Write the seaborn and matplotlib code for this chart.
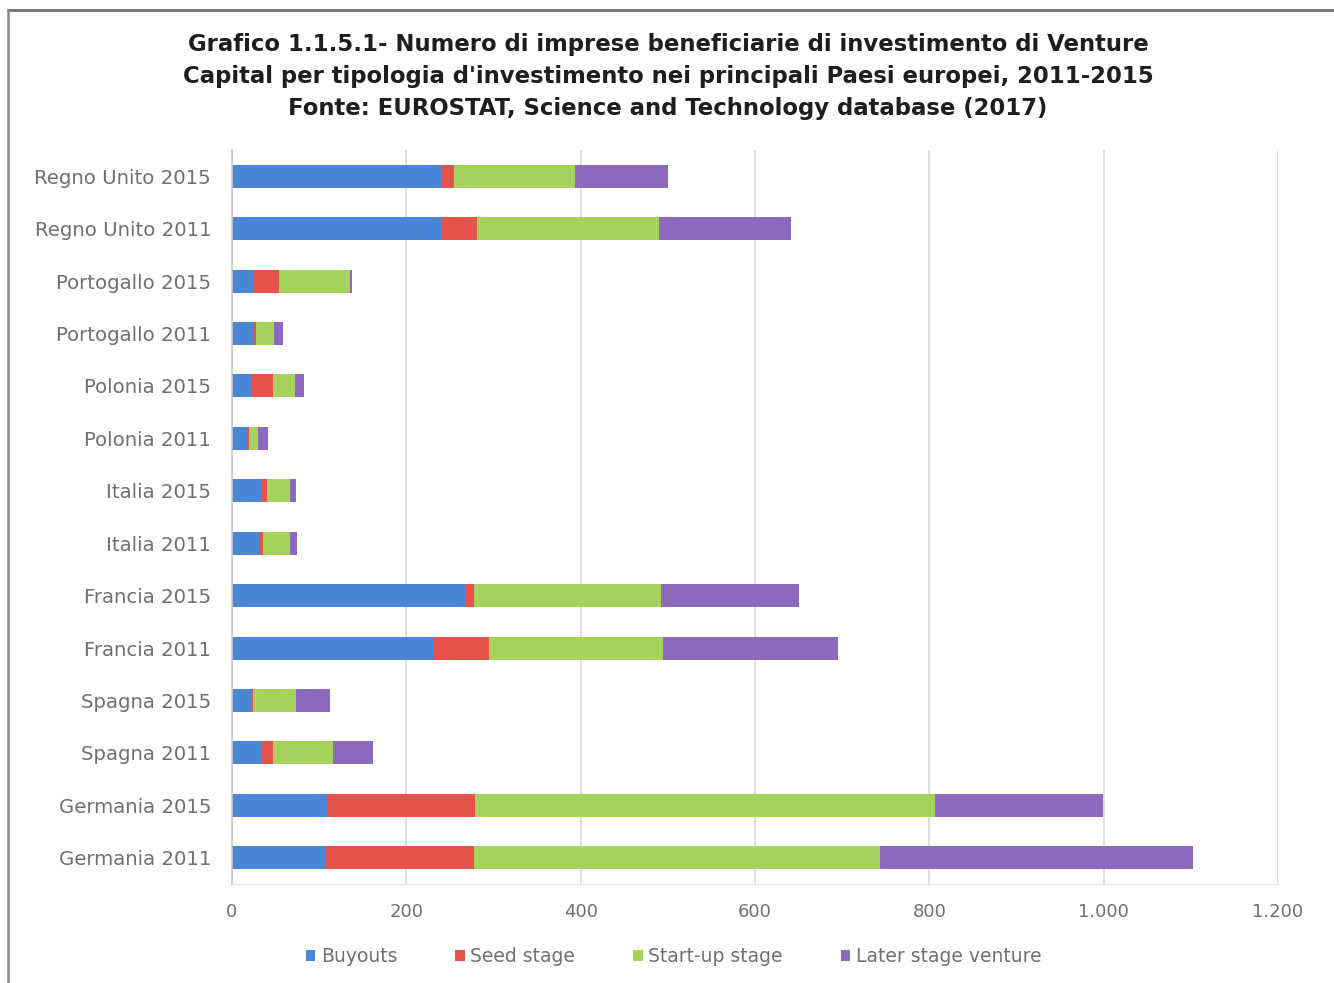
import matplotlib
matplotlib.use("Agg")
import matplotlib.pyplot as plt
from matplotlib.lines import Line2D
from matplotlib.patches import Patch
from matplotlib.ticker import FuncFormatter
import seaborn as sns
import pandas as pd

# Paesi / anni, dall'alto verso il basso
categorie = [
    "Regno Unito 2015", "Regno Unito 2011",
    "Portogallo 2015", "Portogallo 2011",
    "Polonia 2015", "Polonia 2011",
    "Italia 2015", "Italia 2011",
    "Francia 2015", "Francia 2011",
    "Spagna 2015", "Spagna 2011",
    "Germania 2015", "Germania 2011",
]
buyouts = [241, 241, 25, 24, 23, 18, 34, 32, 267, 231, 23, 34, 109, 107]
seed_stage = [14, 40, 29, 3, 24, 2, 6, 4, 11, 64, 1, 13, 170, 171]
startup_stage = [138, 209, 81, 21, 25, 10, 26, 31, 214, 200, 49, 69, 527, 466]
later_stage = [107, 151, 3, 11, 11, 11, 8, 8, 159, 200, 39, 46, 193, 359]

serie = ["Buyouts", "Seed stage", "Start-up stage", "Later stage venture"]
colori = ["#4A86D6", "#E5534B", "#A5D35B", "#8C6BBE"]
tick_x = [0, 200, 400, 600, 800, 1000, 1200]

titolo = ("Grafico 1.1.5.1- Numero di imprese beneficiarie di investimento di Venture\n"
          "Capital per tipologia d'investimento nei principali Paesi europei, 2011-2015\n"
          "Fonte: EUROSTAT, Science and Technology database (2017)")

df = pd.DataFrame({
    "categoria": categorie,
    serie[0]: buyouts,
    serie[1]: seed_stage,
    serie[2]: startup_stage,
    serie[3]: later_stage,
})
# somme cumulate per ottenere le barre in pila
cumul = df[serie].cumsum(axis=1)

sns.set_style("white")
plt.rcParams["font.family"] = ["DejaVu Sans"]

fig = plt.figure(figsize=(13.34, 9.83), dpi=100)
ax = fig.add_axes([0.1739, 0.1007, 0.7841, 0.7467])

# dal totale verso la prima serie, così ogni segmento resta visibile
for nome, col in reversed(list(zip(serie, colori))):
    sns.barplot(x=cumul[nome], y=df["categoria"], order=categorie, color=col,
                orient="h", width=0.44, saturation=1, linewidth=0, ax=ax)

ax.set_xlim(0, 1200)
ax.set_xticks(tick_x)
ax.xaxis.set_major_formatter(FuncFormatter(lambda v, p: f"{int(v):,}".replace(",", ".")))
ax.grid(axis="x", color="#D8D8D8", linewidth=1.2)
ax.set_axisbelow(True)
ax.set_xlabel("")
ax.set_ylabel("")

for s in ["top", "right"]:
    ax.spines[s].set_visible(False)
ax.spines["left"].set_color("#C8C8C8")
ax.spines["bottom"].set_color("#E6E6E6")
ax.spines["left"].set_linewidth(1.2)

ax.tick_params(axis="y", length=0, pad=15, labelsize=14.2, labelcolor="#707070")
ax.tick_params(axis="x", length=0, pad=14, labelsize=13, labelcolor="#707070")

fig.text(0.5007, 0.966, titolo, ha="center", va="top", fontsize=16.4,
         fontweight="bold", color="#1E1E1E", linespacing=1.5)

handles = [Patch(facecolor=c, edgecolor="none") for c in colori]
fig.legend(handles, serie, loc="center", bbox_to_anchor=(0.505, 0.027),
           ncol=4, frameon=False, fontsize=13.5, labelcolor="#707070",
           handlelength=0.5, handleheight=0.5, handletextpad=0.3,
           columnspacing=3.1)

# cornice del riquadro
fig.add_artist(Line2D([0.006, 1.0], [0.9898, 0.9898], transform=fig.transFigure,
                      color="#7A7A7A", linewidth=2.2))
fig.add_artist(Line2D([0.006, 0.006], [0.0, 0.9898], transform=fig.transFigure,
                      color="#8A8A8A", linewidth=1.8))

fig.savefig("out.png", dpi=100)
